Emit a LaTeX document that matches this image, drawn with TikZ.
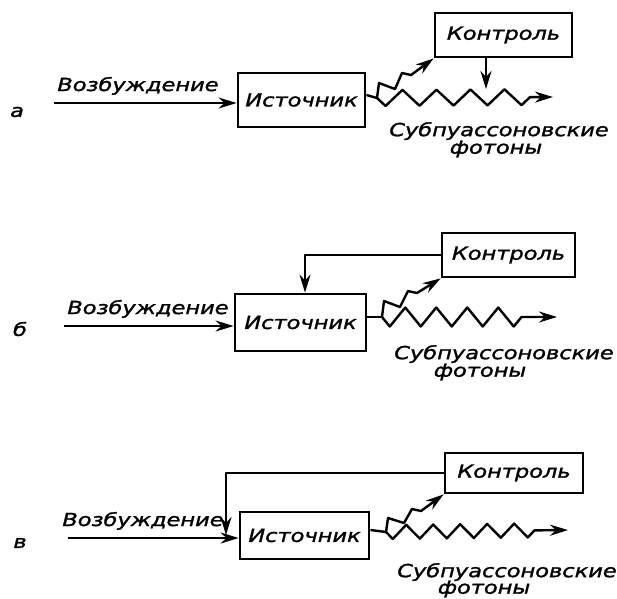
\documentclass[tikz,border=0pt]{standalone}
\usepackage{fontspec}
\newfontfamily\handfont[FakeStretch=1.25, FakeBold=1.5]{DejaVu Sans}
\usetikzlibrary{arrows.meta,decorations.pathmorphing,calc}

\tikzset{
  box/.style={draw, line width=2.8pt, inner sep=0pt, font={\handfont\itshape\fontsize{18}{20}\selectfont}},
  lbl/.style={inner sep=0pt, font={\handfont\itshape\fontsize{18}{20}\selectfont}},
  ray/.style={line width=2.4pt, line join=round, -{Stealth[length=18pt,width=11pt]}},
  photon/.style={ray, decorate, decoration={zigzag, mirror, amplitude=8pt, segment length=34pt, post length=22pt}},
}

\begin{document}
\begin{tikzpicture}[x=1pt, y=-1pt, line width=2.4pt]
\useasboundingbox (0,0) rectangle (617,598);

% a
\node[lbl] (tag_a) at (17,112) {а};
\node[box, minimum width=127pt, minimum height=54pt] (src_a) at (301.5,100) {Источник};
\node[box, minimum width=137pt, minimum height=44pt] (ctl_a) at (503.5,35) {Контроль};
\coordinate (in_a) at (54,103);
\coordinate (br_a) at (377,98);
\coordinate (out_a) at (553,97);
\coordinate (tap_a) at (486,89);
\node[lbl, anchor=base] (exc_a) at (138,91) {Возбуждение};
\draw[ray] (in_a) -- (in_a -| src_a.west);
\draw (src_a.east |- 0,95) -- (br_a);
\draw[ray] (br_a) -- ++(2,-15) -- ++(16,6) -- ++(7,-16) -- ++(9,2) -- (ctl_a.south west);
\draw[photon] (br_a) -- (out_a);
\draw[ray] (tap_a |- ctl_a.south) -- (tap_a);
\node[lbl] (sub_a) at (499,131) {Субпуассоновские};
\node[lbl] (pho_a) at (496,149) {фотоны};

% b
\node[lbl] (tag_b) at (20,329) {б};
\node[box, minimum width=131pt, minimum height=57pt] (src_b) at (300.5,322.5) {Источник};
\node[box, minimum width=133pt, minimum height=44pt] (ctl_b) at (508.5,255) {Контроль};
\coordinate (in_b) at (64,326);
\coordinate (br_b) at (382,317);
\coordinate (out_b) at (557,317);
\node[lbl, anchor=base] (exc_b) at (148,314) {Возбуждение};
\draw[ray] (in_b) -- (in_b -| src_b.west);
\draw[ray] (ctl_b.west) -| ($(src_b.north)+(4.5,0)$);
\draw (src_b.east |- 0,317) -- (br_b);
\draw[ray] (br_b) -- ++(2,-16) -- ++(16,6) -- ++(8,-16) -- ++(9,2) -- (ctl_b.south west);
\draw[photon, decoration={amplitude=9.5pt, segment length=31pt}] (br_b) -- (out_b);
\node[lbl] (sub_b) at (504,354) {Субпуассоновские};
\node[lbl] (pho_b) at (480,372) {фотоны};

% c
\node[lbl] (tag_c) at (20,543) {в};
\node[box, minimum width=129pt, minimum height=47pt] (src_c) at (304.5,535.5) {Источник};
\node[box, minimum width=138pt, minimum height=40pt] (ctl_c) at (514,473) {Контроль};
\coordinate (in_c) at (68,538);
\coordinate (fb_c) at (226,535);
\coordinate (br_c) at (386,532);
\coordinate (out_c) at (568,530);
\node[lbl, anchor=base] (exc_c) at (143,526) {Возбуждение};
\draw[ray] (in_c) -- (in_c -| src_c.west);
\draw[ray] (ctl_c.west) -| (fb_c);
\draw (src_c.east |- 0,530) -- (br_c);
\draw[ray] (br_c) -- ++(2,-14) -- ++(16,5) -- ++(8,-14) -- ++(9,2) -- (ctl_c.south west);
\draw[photon, decoration={amplitude=7pt, segment length=27pt}] (br_c) -- (out_c);
\node[lbl] (sub_c) at (507,572) {Субпуассоновские};
\node[lbl] (pho_c) at (484,589) {фотоны};
\end{tikzpicture}
\end{document}
